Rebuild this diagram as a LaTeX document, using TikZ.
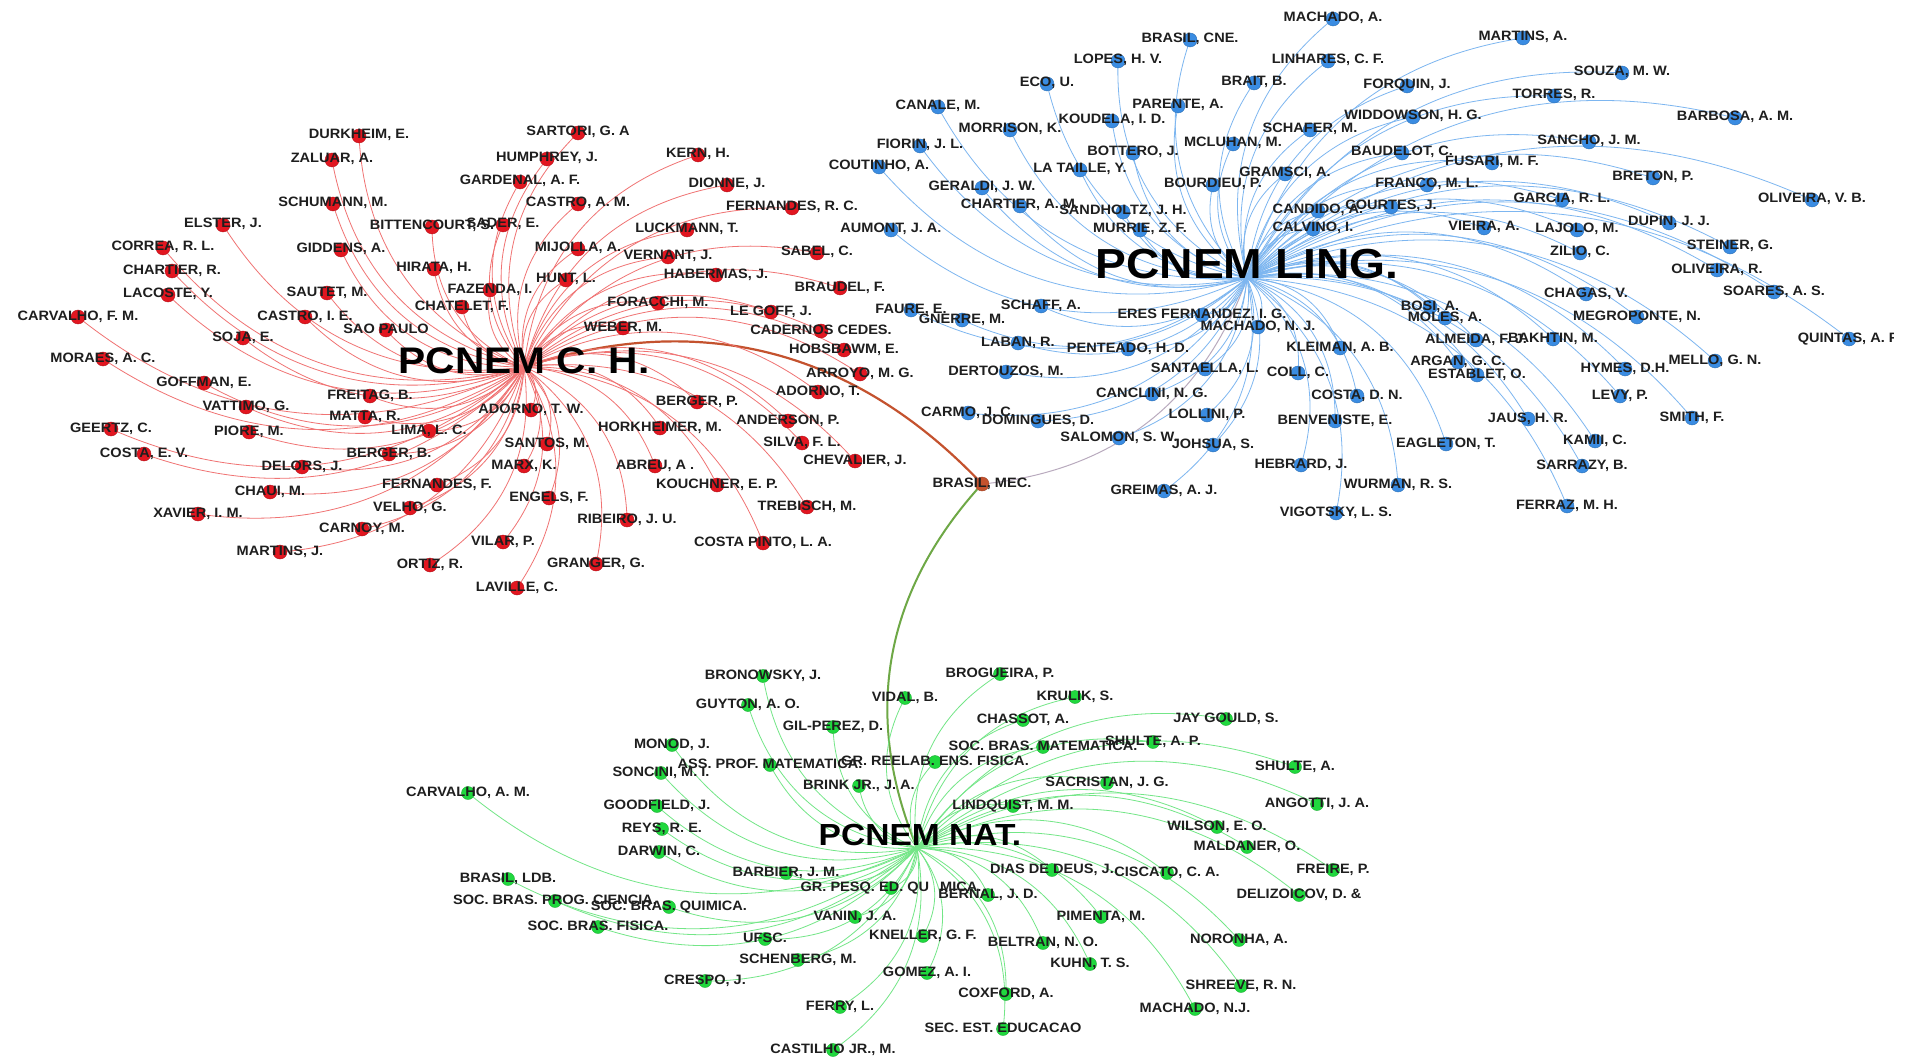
\documentclass[tikz,border=0pt]{standalone}
\usepackage{fontspec}
\newfontfamily\lblfont{Liberation Sans}[FakeStretch=1.07]
\newfontfamily\hubfont{Liberation Sans}[FakeStretch=1.10]

\definecolor{redgec}{RGB}{240,115,115}
\definecolor{bedgec}{RGB}{125,182,240}
\definecolor{gedgec}{RGB}{115,230,135}
\definecolor{rdotc}{RGB}{226,22,32}
\definecolor{bdotc}{RGB}{58,140,226}
\definecolor{gdotc}{RGB}{32,216,62}
\definecolor{mecc}{RGB}{196,82,46}
\definecolor{txtc}{RGB}{30,30,30}

\pgfdeclarelayer{sheet}
\pgfdeclarelayer{edges}
\pgfdeclarelayer{dots}
\pgfsetlayers{sheet,edges,dots,main}

\tikzset{
  dotbase/.style={circle, inner sep=0pt, minimum size=14pt, line width=0.4pt},
  rdot/.style={dotbase, fill=rdotc, draw=rdotc!80!black},
  bdot/.style={dotbase, fill=bdotc, draw=bdotc!80!black},
  gdot/.style={dotbase, fill=gdotc, draw=gdotc!80!black, minimum size=13pt},
  mdot/.style={dotbase, fill=mecc, draw=mecc!80!black},
  redge/.style={draw=redgec, line width=0.8pt},
  bedge/.style={draw=bedgec, line width=0.8pt},
  gedge/.style={draw=gedgec, line width=0.8pt},
  lbl/.style={anchor=base, inner sep=0pt, text=txtc,
    font=\lblfont\bfseries\fontsize{13.6}{14}\selectfont},
  hublbl/.style={anchor=base, inner sep=0pt, text=black},
  curve/.style={bend left=32},
}

% one cited author: dot, its label and the edge from its hub
\newcommand\pnode[6]{%
  \begin{pgfonlayer}{dots}\node[#4dot] (#1) at (#2,#3) {};\end{pgfonlayer}
  \node[lbl] (#1t) at (#2,#3+3) {#6};
  \begin{pgfonlayer}{edges}\draw[#4edge] (#5) to[curve] (#1);\end{pgfonlayer}%
}

\begin{document}
\begin{tikzpicture}[x=1pt, y=-1pt]
\begin{pgfonlayer}{sheet}
\fill[white] (0,0) rectangle (1921,1059);
\end{pgfonlayer}
\useasboundingbox (0,0) rectangle (1921,1059);

% hubs
\coordinate (ch) at (524,367);
\coordinate (ling) at (1247,278);
\coordinate (nat) at (917,848);

% shared reference
\begin{pgfonlayer}{dots}\node[mdot] (mec) at (982,484) {};\end{pgfonlayer}
\node[lbl] (mect) at (982,487) {BRASIL, MEC.};
\begin{pgfonlayer}{edges}
\draw[draw=mecc, line width=2.2pt] (ch) to[curve] (mec);
\draw[draw={rgb,255:red,185;green,170;blue,190}, line width=1pt] (ling) to[curve] (mec);
\draw[draw={rgb,255:red,110;green,168;blue,70}, line width=2pt] (nat) to[curve] (mec);
\end{pgfonlayer}

% ---------------- PCNEM C. H. ----------------
\pnode{r01}{359}{136}{r}{ch}{DURKHEIM, E.}
\pnode{r02}{332}{160}{r}{ch}{ZALUAR, A.}
\pnode{r03}{333}{204}{r}{ch}{SCHUMANN, M.}
\pnode{r04}{223}{225}{r}{ch}{ELSTER, J.}
\pnode{r05}{432}{227}{r}{ch}{BITTENCOURT, S.}
\pnode{r06}{341}{250}{r}{ch}{GIDDENS, A.}
\pnode{r07}{163}{248}{r}{ch}{CORREA, R. L.}
\pnode{r08}{172}{271}{r}{ch}{CHARTIER, R.}
\pnode{r09}{434}{269}{r}{ch}{HIRATA, H.}
\pnode{r10}{168}{295}{r}{ch}{LACOSTE, Y.}
\pnode{r11}{327}{293}{r}{ch}{SAUTET, M.}
\pnode{r12}{490}{290}{r}{ch}{FAZENDA, I.}
\pnode{r13}{462}{307}{r}{ch}{CHATELET, F.}
\pnode{r14}{78}{317}{r}{ch}{CARVALHO, F. M.}
\pnode{r15}{305}{317}{r}{ch}{CASTRO, I. E.}
\pnode{r16}{386}{330}{r}{ch}{SAO PAULO}
\pnode{r17}{243}{338}{r}{ch}{SOJA, E.}
\pnode{r18}{103}{359}{r}{ch}{MORAES, A. C.}
\pnode{r19}{578}{133}{r}{ch}{SARTORI, G. A}
\pnode{r20}{547}{159}{r}{ch}{HUMPHREY, J.}
\pnode{r21}{520}{182}{r}{ch}{GARDENAL, A. F.}
\pnode{r22}{698}{155}{r}{ch}{KERN, H.}
\pnode{r23}{727}{185}{r}{ch}{DIONNE, J.}
\pnode{r24}{578}{204}{r}{ch}{CASTRO, A. M.}
\pnode{r25}{792}{208}{r}{ch}{FERNANDES, R. C.}
\pnode{r26}{503}{225}{r}{ch}{SADER, E.}
\pnode{r27}{687}{230}{r}{ch}{LUCKMANN, T.}
\pnode{r28}{578}{249}{r}{ch}{MIJOLLA, A.}
\pnode{r29}{668}{257}{r}{ch}{VERNANT, J.}
\pnode{r30}{817}{253}{r}{ch}{SABEL, C.}
\pnode{r31}{716}{275}{r}{ch}{HABERMAS, J.}
\pnode{r32}{566}{280}{r}{ch}{HUNT, L.}
\pnode{r33}{840}{288}{r}{ch}{BRAUDEL, F.}
\pnode{r34}{658}{303}{r}{ch}{FORACCHI, M.}
\pnode{r35}{771}{312}{r}{ch}{LE GOFF, J.}
\pnode{r36}{623}{328}{r}{ch}{WEBER, M.}
\pnode{r37}{821}{331}{r}{ch}{CADERNOS CEDES.}
\pnode{r38}{844}{350}{r}{ch}{HOBSBAWM, E.}
\pnode{r39}{204}{383}{r}{ch}{GOFFMAN, E.}
\pnode{r40}{370}{396}{r}{ch}{FREITAG, B.}
\pnode{r41}{246}{407}{r}{ch}{VATTIMO, G.}
\pnode{r42}{365}{417}{r}{ch}{MATTA, R.}
\pnode{r43}{111}{429}{r}{ch}{GEERTZ, C.}
\pnode{r44}{249}{432}{r}{ch}{PIORE, M.}
\pnode{r45}{429}{431}{r}{ch}{LIMA, L. C.}
\pnode{r46}{144}{454}{r}{ch}{COSTA, E. V.}
\pnode{r47}{389}{454}{r}{ch}{BERGER, B.}
\pnode{r48}{302}{467}{r}{ch}{DELORS, J.}
\pnode{r49}{437}{485}{r}{ch}{FERNANDES, F.}
\pnode{r50}{270}{492}{r}{ch}{CHAUI, M.}
\pnode{r51}{410}{508}{r}{ch}{VELHO, G.}
\pnode{r52}{198}{514}{r}{ch}{XAVIER, I. M.}
\pnode{r53}{362}{529}{r}{ch}{CARNOY, M.}
\pnode{r54}{280}{552}{r}{ch}{MARTINS, J.}
\pnode{r55}{430}{565}{r}{ch}{ORTIZ, R.}
\pnode{r56}{531}{410}{r}{ch}{ADORNO, T. W.}
\pnode{r57}{547}{444}{r}{ch}{SANTOS, M.}
\pnode{r58}{524}{466}{r}{ch}{MARX, K.}
\pnode{r59}{549}{498}{r}{ch}{ENGELS, F.}
\pnode{r60}{503}{542}{r}{ch}{VILAR, P.}
\pnode{r61}{517}{588}{r}{ch}{LAVILLE, C.}
\pnode{r62}{596}{564}{r}{ch}{GRANGER, G.}
\pnode{r63}{627}{520}{r}{ch}{RIBEIRO, J. U.}
\pnode{r64}{655}{466}{r}{ch}{ABREU, A .}
\pnode{r65}{660}{428}{r}{ch}{HORKHEIMER, M.}
\pnode{r66}{697}{402}{r}{ch}{BERGER, P.}
\pnode{r67}{717}{485}{r}{ch}{KOUCHNER, E. P.}
\pnode{r68}{763}{543}{r}{ch}{COSTA PINTO, L. A.}
\pnode{r69}{807}{507}{r}{ch}{TREBISCH, M.}
\pnode{r70}{788}{421}{r}{ch}{ANDERSON, P.}
\pnode{r71}{802}{443}{r}{ch}{SILVA, F. L.}
\pnode{r72}{855}{461}{r}{ch}{CHEVALIER, J.}
\pnode{r73}{860}{374}{r}{ch}{ARROYO, M. G.}
\pnode{r74}{818}{392}{r}{ch}{ADORNO, T.}

% ---------------- PCNEM LING. ----------------
\pnode{b01}{1333}{19}{b}{ling}{MACHADO, A.}
\pnode{b02}{1190}{40}{b}{ling}{BRASIL, CNE.}
\pnode{b03}{1118}{61}{b}{ling}{LOPES, H. V.}
\pnode{b04}{1328}{61}{b}{ling}{LINHARES, C. F.}
\pnode{b05}{1523}{38}{b}{ling}{MARTINS, A.}
\pnode{b06}{1047}{84}{b}{ling}{ECO, U.}
\pnode{b07}{1254}{83}{b}{ling}{BRAIT, B.}
\pnode{b08}{1407}{86}{b}{ling}{FORQUIN, J.}
\pnode{b09}{1622}{73}{b}{ling}{SOUZA, M. W.}
\pnode{b10}{938}{107}{b}{ling}{CANALE, M.}
\pnode{b11}{1178}{106}{b}{ling}{PARENTE, A.}
\pnode{b12}{1554}{96}{b}{ling}{TORRES, R.}
\pnode{b13}{1112}{121}{b}{ling}{KOUDELA, I. D.}
\pnode{b14}{1010}{130}{b}{ling}{MORRISON, K.}
\pnode{b15}{1310}{130}{b}{ling}{SCHAFER, M.}
\pnode{b16}{1413}{117}{b}{ling}{WIDDOWSON, H. G.}
\pnode{b17}{1735}{118}{b}{ling}{BARBOSA, A. M.}
\pnode{b18}{920}{146}{b}{ling}{FIORIN, J. L.}
\pnode{b19}{1233}{144}{b}{ling}{MCLUHAN, M.}
\pnode{b20}{1133}{153}{b}{ling}{BOTTERO, J.}
\pnode{b21}{1589}{142}{b}{ling}{SANCHO, J. M.}
\pnode{b22}{1402}{153}{b}{ling}{BAUDELOT, C.}
\pnode{b23}{1492}{163}{b}{ling}{FUSARI, M. F.}
\pnode{b24}{879}{167}{b}{ling}{COUTINHO, A.}
\pnode{b25}{1080}{170}{b}{ling}{LA TAILLE, Y.}
\pnode{b26}{1285}{174}{b}{ling}{GRAMSCI, A.}
\pnode{b27}{1653}{178}{b}{ling}{BRETON, P.}
\pnode{b28}{982}{188}{b}{ling}{GERALDI, J. W.}
\pnode{b29}{1213}{185}{b}{ling}{BOURDIEU, P.}
\pnode{b30}{1427}{185}{b}{ling}{FRANCO, M. L.}
\pnode{b31}{1562}{200}{b}{ling}{GARCIA, R. L.}
\pnode{b32}{1812}{200}{b}{ling}{OLIVEIRA, V. B.}
\pnode{b33}{1020}{206}{b}{ling}{CHARTIER, A. M.}
\pnode{b34}{1123}{212}{b}{ling}{SANDHOLTZ, J. H.}
\pnode{b35}{1318}{211}{b}{ling}{CANDIDO, A.}
\pnode{b36}{1391}{207}{b}{ling}{COURTES, J.}
\pnode{b37}{1669}{223}{b}{ling}{DUPIN, J. J.}
\pnode{b38}{891}{230}{b}{ling}{AUMONT, J. A.}
\pnode{b39}{1140}{230}{b}{ling}{MURRIE, Z. F.}
\pnode{b40}{1313}{229}{b}{ling}{CALVINO, I.}
\pnode{b41}{1484}{228}{b}{ling}{VIEIRA, A.}
\pnode{b42}{1577}{230}{b}{ling}{LAJOLO, M.}
\pnode{b43}{1730}{247}{b}{ling}{STEINER, G.}
\pnode{b44}{1580}{253}{b}{ling}{ZILIO, C.}
\pnode{b45}{1717}{270}{b}{ling}{OLIVEIRA, R.}
\pnode{b46}{1774}{292}{b}{ling}{SOARES, A. S.}
\pnode{b47}{1041}{306}{b}{ling}{SCHAFF, A.}
\pnode{b48}{911}{310}{b}{ling}{FAURE, E.}
\pnode{b49}{962}{320}{b}{ling}{GNERRE, M.}
\pnode{b50}{1202}{315}{b}{ling}{ERES FERNANDEZ, I. G.}
\pnode{b51}{1258}{327}{b}{ling}{MACHADO, N. J.}
\pnode{b52}{1430}{307}{b}{ling}{BOSI, A.}
\pnode{b53}{1445}{318}{b}{ling}{MOLES, A.}
\pnode{b54}{1586}{294}{b}{ling}{CHAGAS, V.}
\pnode{b55}{1637}{317}{b}{ling}{MEGROPONTE, N.}
\pnode{b56}{1018}{343}{b}{ling}{LABAN, R.}
\pnode{b57}{1128}{349}{b}{ling}{PENTEADO, H. D.}
\pnode{b58}{1476}{340}{b}{ling}{ALMEIDA, F. J.}
\pnode{b59}{1553}{339}{b}{ling}{BAKHTIN, M.}
\pnode{b61}{1340}{348}{b}{ling}{KLEIMAN, A. B.}
\pnode{b62}{1006}{372}{b}{ling}{DERTOUZOS, M.}
\pnode{b63}{1205}{369}{b}{ling}{SANTAELLA, L.}
\pnode{b64}{1298}{373}{b}{ling}{COLL, C.}
\pnode{b65}{1458}{362}{b}{ling}{ARGAN, G. C.}
\pnode{b66}{1477}{375}{b}{ling}{ESTABLET, O.}
\pnode{b67}{1625}{369}{b}{ling}{HYMES, D.H.}
\pnode{b68}{1715}{361}{b}{ling}{MELLO, G. N.}
\pnode{b69}{1357}{396}{b}{ling}{COSTA, D. N.}
\pnode{b70}{1620}{396}{b}{ling}{LEVY, P.}
\pnode{b71}{1152}{394}{b}{ling}{CANCLINI, N. G.}
\pnode{b72}{968}{413}{b}{ling}{CARMO, J. C.}
\pnode{b73}{1038}{421}{b}{ling}{DOMINGUES, D.}
\pnode{b74}{1207}{415}{b}{ling}{LOLLINI, P.}
\pnode{b75}{1335}{421}{b}{ling}{BENVENISTE, E.}
\pnode{b76}{1528}{419}{b}{ling}{JAUS, H. R.}
\pnode{b77}{1692}{418}{b}{ling}{SMITH, F.}
\pnode{b78}{1595}{441}{b}{ling}{KAMII, C.}
\pnode{b79}{1119}{438}{b}{ling}{SALOMON, S. W.}
\pnode{b80}{1213}{445}{b}{ling}{JOHSUA, S.}
\pnode{b81}{1446}{444}{b}{ling}{EAGLETON, T.}
\pnode{b82}{1301}{465}{b}{ling}{HEBRARD, J.}
\pnode{b83}{1582}{466}{b}{ling}{SARRAZY, B.}
\pnode{b84}{1398}{485}{b}{ling}{WURMAN, R. S.}
\pnode{b85}{1164}{491}{b}{ling}{GREIMAS, A. J.}
\pnode{b86}{1567}{506}{b}{ling}{FERRAZ, M. H.}
\pnode{b87}{1336}{513}{b}{ling}{VIGOTSKY, L. S.}
% the rightmost label runs off the edge of the sheet
\begin{scope}
\clip (0,0) rectangle (1893,1059);
\pnode{b60}{1849}{339}{b}{ling}{QUINTAS, A. F.}
\end{scope}

% ---------------- PCNEM NAT. ----------------
\pnode{g01}{763}{676}{g}{nat}{BRONOWSKY, J.}
\pnode{g02}{1000}{674}{g}{nat}{BROGUEIRA, P.}
\pnode{g03}{748}{705}{g}{nat}{GUYTON, A. O.}
\pnode{g04}{905}{698}{g}{nat}{VIDAL, B.}
\pnode{g05}{1075}{697}{g}{nat}{KRULIK, S.}
\pnode{g06}{1023}{720}{g}{nat}{CHASSOT, A.}
\pnode{g07}{833}{727}{g}{nat}{GIL-PEREZ, D.}
\pnode{g08}{1226}{719}{g}{nat}{JAY GOULD, S.}
\pnode{g09}{672}{745}{g}{nat}{MONOD, J.}
\pnode{g10}{1043}{747}{g}{nat}{SOC. BRAS. MATEMATICA.}
\pnode{g11}{1153}{742}{g}{nat}{SHULTE, A. P.}
\pnode{g12}{770}{765}{g}{nat}{ASS. PROF. MATEMATICA.}
\pnode{g13}{935}{762}{g}{nat}{GR. REELAB. ENS. FISICA.}
\pnode{g14}{661}{773}{g}{nat}{SONCINI, M. I.}
\pnode{g15}{1295}{767}{g}{nat}{SHULTE, A.}
\pnode{g16}{859}{786}{g}{nat}{BRINK JR., J. A.}
\pnode{g17}{1107}{783}{g}{nat}{SACRISTAN, J. G.}
\pnode{g18}{468}{793}{g}{nat}{CARVALHO, A. M.}
\pnode{g19}{657}{806}{g}{nat}{GOODFIELD, J.}
\pnode{g20}{1013}{806}{g}{nat}{LINDQUIST, M. M.}
\pnode{g21}{1317}{804}{g}{nat}{ANGOTTI, J. A.}
\pnode{g22}{662}{829}{g}{nat}{REYS, R. E.}
\pnode{g23}{1217}{827}{g}{nat}{WILSON, E. O.}
\pnode{g24}{659}{852}{g}{nat}{DARWIN, C.}
\pnode{g25}{1247}{847}{g}{nat}{MALDANER, O.}
\pnode{g26}{786}{873}{g}{nat}{BARBIER, J. M.}
\pnode{g27}{1052}{870}{g}{nat}{DIAS DE DEUS, J.}
\pnode{g28}{1167}{873}{g}{nat}{CISCATO, C. A.}
\pnode{g29}{1333}{870}{g}{nat}{FREIRE, P.}
\pnode{g30}{508}{879}{g}{nat}{BRASIL, LDB.}
\pnode{g31}{891}{888}{g}{nat}{GR. PESQ. ED. QU\hspace{11pt}MICA.}
\pnode{g32}{555}{901}{g}{nat}{SOC. BRAS. PROG. CIENCIA.}
\pnode{g33}{669}{907}{g}{nat}{SOC. BRAS. QUIMICA.}
\pnode{g34}{988}{895}{g}{nat}{BERNAL, J. D.}
\pnode{g35}{1299}{895}{g}{nat}{DELIZOICOV, D. \&}
\pnode{g36}{855}{917}{g}{nat}{VANIN, J. A.}
\pnode{g37}{1101}{917}{g}{nat}{PIMENTA, M.}
\pnode{g38}{598}{927}{g}{nat}{SOC. BRAS. FISICA.}
\pnode{g39}{765}{939}{g}{nat}{UFSC.}
\pnode{g40}{923}{936}{g}{nat}{KNELLER, G. F.}
\pnode{g41}{1043}{943}{g}{nat}{BELTRAN, N. O.}
\pnode{g42}{1239}{940}{g}{nat}{NORONHA, A.}
\pnode{g43}{798}{960}{g}{nat}{SCHENBERG, M.}
\pnode{g44}{1090}{964}{g}{nat}{KUHN, T. S.}
\pnode{g45}{927}{973}{g}{nat}{GOMEZ, A. I.}
\pnode{g46}{705}{981}{g}{nat}{CRESPO, J.}
\pnode{g47}{1241}{986}{g}{nat}{SHREEVE, R. N.}
\pnode{g48}{1006}{994}{g}{nat}{COXFORD, A.}
\pnode{g49}{1195}{1009}{g}{nat}{MACHADO, N.J.}
\pnode{g50}{840}{1007}{g}{nat}{FERRY, L.}
\pnode{g51}{1003}{1029}{g}{nat}{SEC. EST. EDUCACAO}
\pnode{g52}{833}{1050}{g}{nat}{CASTILHO JR., M.}

% hub labels
\node[hublbl, font=\hubfont\bfseries\fontsize{37}{40}\selectfont] (cht) at (524,373) {PCNEM C. H.};
\node[hublbl, font=\hubfont\bfseries\fontsize{42}{45}\selectfont] (lingt) at (1247,278) {PCNEM LING.};
\node[hublbl, font=\hubfont\bfseries\fontsize{30.5}{33}\selectfont] (natt) at (920,845) {PCNEM NAT.};
\end{tikzpicture}
\end{document}
